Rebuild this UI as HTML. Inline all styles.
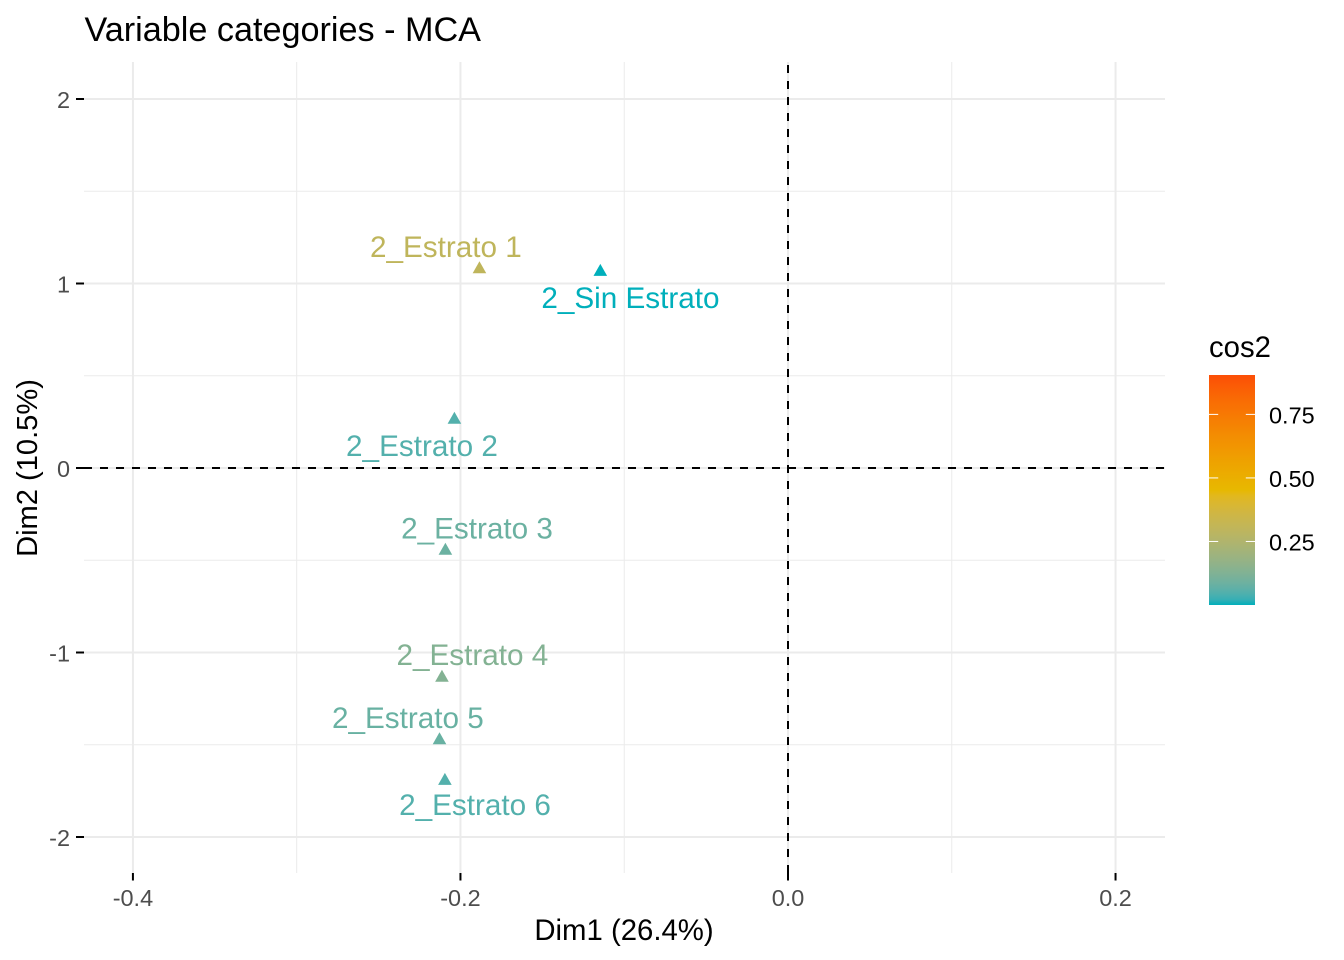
<!DOCTYPE html>
<html>
<head>
<meta charset="utf-8">
<title>Variable categories - MCA</title>
<style>
html,body{margin:0;padding:0;background:#fff;width:1344px;height:960px;overflow:hidden}
svg{display:block;font-family:"Liberation Sans",Arial,sans-serif}
</style>
</head>
<body>
<svg id="chart" xmlns="http://www.w3.org/2000/svg" width="1344" height="960" viewBox="0 0 1344 960">
  <rect width="1344" height="960" fill="#fff"/>
  <g id="grid"></g>
  <g id="refs"></g>
  <g id="ticks"></g>
  <g id="points"></g>
  <g id="labels"></g>
  <text x="84.5" y="41" font-size="34.2" fill="#000">Variable categories - MCA</text>
  <text x="624" y="940" font-size="29.33" fill="#000" text-anchor="middle">Dim1 (26.4%)</text>
  <text transform="translate(37,468) rotate(-90)" font-size="29.1" fill="#000" text-anchor="middle">Dim2 (10.5%)</text>
  <g id="legend">
    <text x="1209" y="357" font-size="29.33" fill="#000">cos2</text>
    <defs><linearGradient id="legendGradient" x1="0" y1="1" x2="0" y2="0"></linearGradient></defs>
    <rect x="1209" y="375" width="46" height="230" fill="url(#legendGradient)"/>
  </g>
</svg>
<script>
const categories = ["2_Estrato 1","2_Sin Estrato","2_Estrato 2","2_Estrato 3","2_Estrato 4","2_Estrato 5","2_Estrato 6"];
const dim1Values = [-0.1884,-0.1146,-0.2037,-0.2092,-0.2113,-0.2128,-0.2095];
const dim2Values = [1.087,1.073,0.271,-0.439,-1.127,-1.466,-1.686];
const cos2Values = [0.30,0,0.05,0.085,0.13,0.08,0.05];
const labelDim1 = [-0.2089,-0.0962,-0.2235,-0.1899,-0.1927,-0.2321,-0.1911];
const labelDim2 = [1.1436,0.867,0.065,-0.382,-1.068,-1.409,-1.881];
const xMajorTicks = [-0.4,-0.2,0,0.2];
const xTickLabels = ["-0.4","-0.2","0.0","0.2"];
const xMinorTicks = [-0.3,-0.1,0.1];
const yMajorTicks = [-2,-1,0,1,2];
const yTickLabels = ["-2","-1","0","1","2"];
const yMinorTicks = [-1.5,-0.5,0.5,1.5];
const legendTicks = [0.25,0.5,0.75];
const legendTickLabels = ["0.25","0.50","0.75"];
const legendDomain = [0,0.905];
const gradientColors = ["#00AFBB","#E7B800","#FC4E07"];

const PANEL = {l:84,r:1165,t:62,b:873};
const xScale = v => 788 + v*1637.7;
const yScale = v => 468 - v*184.5;
const legendScale = v => 605 - (v-legendDomain[0])/(legendDomain[1]-legendDomain[0])*230;
const NS = "http://www.w3.org/2000/svg";
function mk(tag, parent, attrs, text){
  const el = document.createElementNS(NS, tag);
  for (const k in attrs) el.setAttribute(k, attrs[k]);
  if (text !== undefined) el.textContent = text;
  parent.appendChild(el);
  return el;
}
/* Lab colour interpolation, as used by scales::seq_gradient_pal */
function hex2lab(h){
  let c=[1,3,5].map(i=>parseInt(h.substr(i,2),16)/255).map(v=>v>0.04045?Math.pow((v+0.055)/1.055,2.4):v/12.92);
  const X=(0.4124*c[0]+0.3576*c[1]+0.1805*c[2])/0.95047,
        Y=0.2126*c[0]+0.7152*c[1]+0.0722*c[2],
        Z=(0.0193*c[0]+0.1192*c[1]+0.9505*c[2])/1.08883;
  const f=t=>t>0.008856?Math.cbrt(t):7.787*t+16/116;
  return [116*f(Y)-16,500*(f(X)-f(Y)),200*(f(Y)-f(Z))];
}
function lab2hex(l){
  const fy=(l[0]+16)/116,fx=fy+l[1]/500,fz=fy-l[2]/200;
  const g=t=>t*t*t>0.008856?t*t*t:(t-16/116)/7.787;
  const X=g(fx)*0.95047,Y=g(fy),Z=g(fz)*1.08883;
  const rgb=[3.2406*X-1.5372*Y-0.4986*Z,-0.9689*X+1.8758*Y+0.0415*Z,0.0557*X-0.204*Y+1.057*Z];
  return "#"+rgb.map(v=>{
    v=Math.max(0,Math.min(1,v));
    v=v>0.0031308?1.055*Math.pow(v,1/2.4)-0.055:12.92*v;
    return Math.round(v*255).toString(16).padStart(2,"0");
  }).join("");
}
function colorFor(v){
  const mid=(legendDomain[0]+legendDomain[1])/2;
  const a=gradientColors.map(hex2lab);
  const t=v<=mid?(v-legendDomain[0])/(mid-legendDomain[0]):(v-mid)/(legendDomain[1]-mid);
  const p=v<=mid?a[0]:a[1], q=v<=mid?a[1]:a[2];
  return lab2hex(p.map((x,i)=>x+(q[i]-x)*Math.max(0,Math.min(1,t))));
}

const grid=document.getElementById("grid"), refs=document.getElementById("refs"), ticks=document.getElementById("ticks");
const points=document.getElementById("points"), labels=document.getElementById("labels"), legend=document.getElementById("legend");

xMinorTicks.forEach(v=>{
  const el=mk("line",grid,{x1:xScale(v),x2:xScale(v),y1:PANEL.t,y2:PANEL.b,stroke:"#EBEBEB","stroke-width":1});
  
  
});
yMinorTicks.forEach(v=>{
  const el=mk("line",grid,{x1:PANEL.l,x2:PANEL.r,y1:yScale(v),y2:yScale(v),stroke:"#EBEBEB","stroke-width":1});
  
  
});
xMajorTicks.forEach((v,i)=>{
  const x=xScale(v);
  const g=mk("line",grid,{x1:x,x2:x,y1:PANEL.t,y2:PANEL.b,stroke:"#EBEBEB","stroke-width":2});
  
  
  const t=mk("line",ticks,{x1:x,x2:x,y1:PANEL.b,y2:PANEL.b+7.5,stroke:"#000","stroke-width":2});
  
  
  const l=mk("text",ticks,{x:x,y:906,"font-size":23.47,fill:"#4D4D4D","text-anchor":"middle"},xTickLabels[i]);
  
  
});
yMajorTicks.forEach((v,i)=>{
  const y=yScale(v);
  const g=mk("line",grid,{x1:PANEL.l,x2:PANEL.r,y1:y,y2:y,stroke:"#EBEBEB","stroke-width":2});
  
  
  const t=mk("line",ticks,{x1:76,x2:PANEL.l,y1:y,y2:y,stroke:"#000","stroke-width":2});
  
  
  const l=mk("text",ticks,{x:70,y:y+9,"font-size":23.47,fill:"#4D4D4D","text-anchor":"end"},yTickLabels[i]);
  
  
});

const hRef=mk("line",refs,{x1:PANEL.l,x2:PANEL.r,y1:yScale(0),y2:yScale(0),stroke:"#000","stroke-width":2,"stroke-dasharray":"8 8"});


const vRef=mk("line",refs,{x1:xScale(0),x2:xScale(0),y1:PANEL.b,y2:PANEL.t,stroke:"#000","stroke-width":2,"stroke-dasharray":"8 8"});



categories.forEach((name,i)=>{
  const cx=xScale(dim1Values[i]), cy=yScale(dim2Values[i]), col=colorFor(cos2Values[i]);
  const p=mk("polygon",points,{points:`${cx},${cy-6.2} ${cx+6.8},${cy+5.8} ${cx-6.8},${cy+5.8}`,fill:col});
  
  
  const l=mk("text",labels,{x:xScale(labelDim1[i]),y:yScale(labelDim2[i]),"font-size":29.7,fill:col,"text-anchor":"middle"},name);
  
  
});

const grad=document.getElementById("legendGradient");
for(let i=0;i<=40;i++){
  const v=legendDomain[0]+(legendDomain[1]-legendDomain[0])*i/40;
  mk("stop",grad,{offset:(i/40*100)+"%","stop-color":colorFor(v)});
}
legendTicks.forEach((v,i)=>{
  const y=legendScale(v);
  const a=mk("line",legend,{x1:1209,x2:1218.2,y1:y,y2:y,stroke:"#fff","stroke-width":1});
  
  
  const b=mk("line",legend,{x1:1245.8,x2:1255,y1:y,y2:y,stroke:"#fff","stroke-width":1});
  
  
  const l=mk("text",legend,{x:1269,y:y+9,"font-size":23.47,fill:"#000"},legendTickLabels[i]);
  
  
});
</script>
</body>
</html>
